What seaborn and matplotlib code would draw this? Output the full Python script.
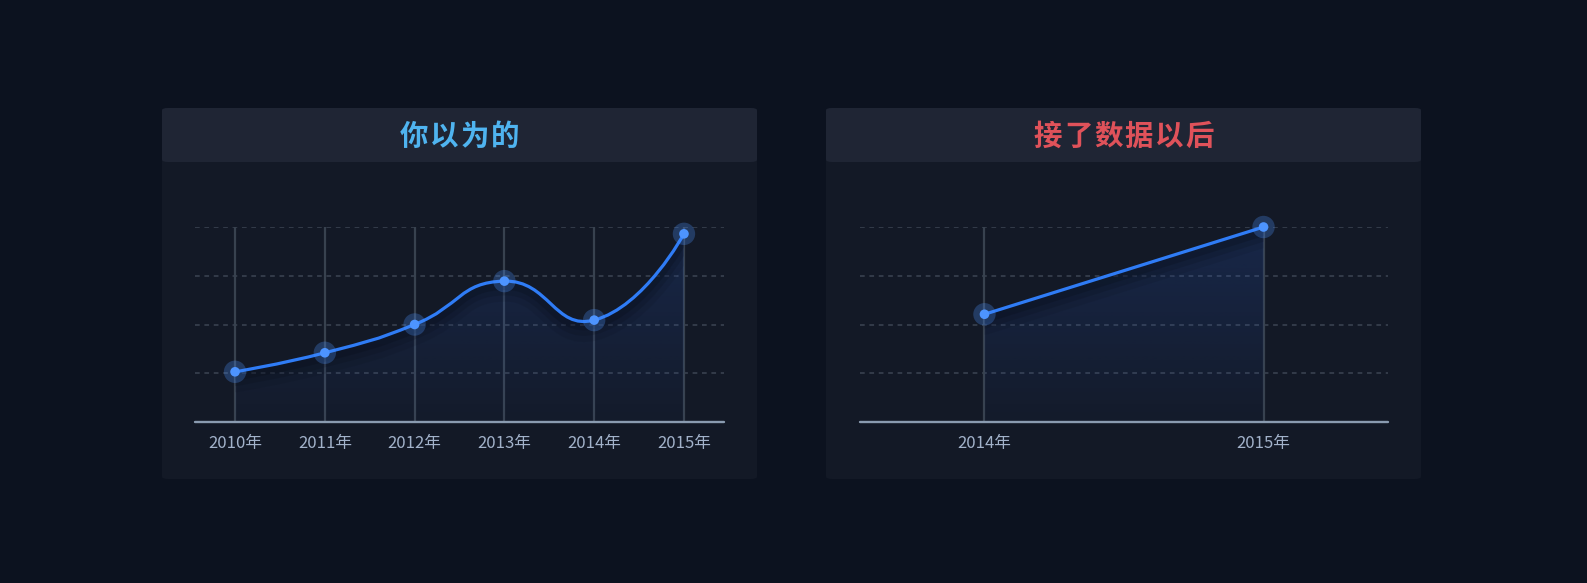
import numpy as np
import pandas as pd
import matplotlib
matplotlib.use("Agg")
import matplotlib.pyplot as plt
import seaborn as sns
from matplotlib.path import Path
from matplotlib.patches import PathPatch, FancyBboxPatch
from matplotlib import transforms

# ---- data ----
left_title = "你以为的"
right_title = "接了数据以后"
left_years = ["2010年", "2011年", "2012年", "2013年", "2014年", "2015年"]
left_values = [103, 142, 200, 289, 209, 386]
right_years = ["2014年", "2015年"]
right_values = [221, 400]
grid_values = [100, 200, 300, 400]

# ---- style ----
sns.set_theme(style="dark")
plt.rcParams["font.family"] = ["Noto Sans CJK SC", "DejaVu Sans"]

BG = "#0c121f"
PANEL = "#131926"
HEADER = "#1f2534"
LINE = "#2f7cf6"
DOT = "#4d94ff"
VGRID = "#38424f"
HGRID = "#363e4c"
BASE = "#8a9bb0"
TICK = "#a2b2ca"

W, H = 1587, 583
fig = plt.figure(figsize=(W / 100, H / 100), dpi=100, facecolor=BG)


def fx(px):
    return px / W


def fy(py):
    return 1 - py / H


def panel(x0, x1, y0, yh, y1, title, tcolor):
    body = FancyBboxPatch((fx(x0), fy(y1)), fx(x1 - x0), (y1 - y0) / H,
                          boxstyle="round,pad=0,rounding_size=0.004",
                          transform=fig.transFigure, facecolor=PANEL,
                          edgecolor="none", zorder=-2)
    fig.patches.append(body)
    head = FancyBboxPatch((fx(x0), fy(yh)), fx(x1 - x0), (yh - y0) / H,
                          boxstyle="round,pad=0,rounding_size=0.004",
                          transform=fig.transFigure, facecolor=HEADER,
                          edgecolor="none", zorder=-1)
    fig.patches.append(head)
    pitch = 30.3
    n = len(title)
    cx = (x0 + x1) / 2
    for i, ch in enumerate(title):
        px = cx + (i - (n - 1) / 2) * pitch
        fig.text(fx(px), fy((y0 + yh) / 2 + 2), ch, color=tcolor,
                 fontsize=20.5, fontweight="bold", ha="center", va="center",
                 family=["Noto Sans CJK SC", "DejaVu Sans"])


panel(162, 757, 108, 162, 479, left_title, "#4fb4f0")
panel(826, 1421, 108, 162, 479, right_title, "#e0525a")


def make_ax(x0, x1, n):
    ax = fig.add_axes([fx(x0), fy(422), fx(x1 - x0), 195 / H])
    ax.set_facecolor("none")
    pad = 0.446
    ax.set_xlim(-pad, n - 1 + pad)
    ax.set_ylim(0, 400)
    for s in ax.spines.values():
        s.set_visible(False)
    ax.grid(False)
    ax.set_yticks([])
    for g in grid_values:
        ax.axhline(g, color=HGRID, lw=1.3, ls=(0, (2.6, 2.6)), zorder=1)
    for i in range(n):
        ax.axvline(i, ymin=0, ymax=1, color=VGRID, lw=1.6, zorder=1.5)
    ax.axhline(0, color=BASE, lw=1.7, zorder=6, clip_on=False)
    return ax


def smooth_path(xs, ys, sx, sy, smooth=0.5):
    # echarts-like bezier smoothing computed in pixel space
    P = np.column_stack([np.asarray(xs, float) * sx, np.asarray(ys, float) * sy])
    n = len(P)
    verts = [tuple(P[0])]
    codes = [Path.MOVETO]
    cin = [None] * n
    cout = [None] * n
    for i in range(n):
        if i == 0 or i == n - 1:
            cin[i] = P[i]
            cout[i] = P[i]
            continue
        v = P[i + 1] - P[i - 1]
        d0 = np.hypot(*(P[i] - P[i - 1]))
        d1 = np.hypot(*(P[i + 1] - P[i]))
        r1 = d1 / (d0 + d1)
        cin[i] = P[i] - v * smooth * (1 - r1)
        cout[i] = P[i] + v * smooth * r1
    for i in range(1, n):
        verts += [tuple(cout[i - 1]), tuple(cin[i]), tuple(P[i])]
        codes += [Path.CURVE4] * 3
    verts = [(a / sx, b / sy) for a, b in verts]
    return verts, codes


def decorate(ax, verts, codes, xs, ys):
    xlim = ax.get_xlim()
    fverts = verts + [(xs[-1], 0), (xs[0], 0), (xs[0], ys[0])]
    fcodes = codes + [Path.LINETO, Path.LINETO, Path.CLOSEPOLY]
    fill_path = Path(fverts, fcodes)
    clip = PathPatch(fill_path, transform=ax.transData, facecolor="none",
                     edgecolor="none")
    ax.add_patch(clip)
    grad = np.linspace(0.22, 0.03, 256).reshape(-1, 1)
    rgba = np.zeros((256, 1, 4))
    rgba[..., 0] = 0x2a / 255
    rgba[..., 1] = 0x5c / 255
    rgba[..., 2] = 0xc8 / 255
    rgba[..., 3] = grad
    im = ax.imshow(rgba, extent=[xlim[0], xlim[1], 0, 400],
                   origin="upper", aspect="auto", zorder=2, interpolation="bilinear")
    im.set_clip_path(clip)
    ax.set_xlim(xlim)
    ax.set_ylim(0, 400)
    lpath = Path(verts, codes)
    for lw, a, off in [(18, 0.10, -8), (12, 0.16, -6), (7, 0.22, -4)]:
        tr = transforms.offset_copy(ax.transData, fig=fig, x=0, y=off, units="dots")
        sh = PathPatch(lpath, transform=tr, facecolor="none", edgecolor="#070b14",
                       lw=lw, alpha=a, zorder=2.5, capstyle="round")
        sh.set_clip_path(clip)
        ax.add_patch(sh)


tick_kw = dict(colors=TICK, labelsize=12, length=0, pad=9.5)

# ---- left chart ----
axL = make_ax(195, 724, len(left_years))
xl = np.arange(len(left_years))
sx, sy = 89.7, 48.75 / 100
verts, codes = smooth_path(xl, left_values, sx, sy)
decorate(axL, verts, codes, list(xl), left_values)
axL.add_patch(PathPatch(Path(verts, codes), facecolor="none", edgecolor=LINE,
                        lw=2.3, zorder=4, capstyle="round"))
dfL = pd.DataFrame({"x": xl, "y": left_values})
sns.scatterplot(data=dfL, x="x", y="y", ax=axL, s=260, color=DOT, alpha=0.28,
                edgecolor="none", zorder=5, clip_on=False)
sns.scatterplot(data=dfL, x="x", y="y", ax=axL, s=48, color=DOT,
                edgecolor="none", zorder=6, clip_on=False)
axL.set_xticks(xl)
axL.set_xticklabels(left_years)
axL.tick_params(axis="x", **tick_kw)
axL.set_xlabel("")
axL.set_ylabel("")
axL.set_xlim(-0.446, 5.446)
axL.set_ylim(0, 400)

# ---- right chart ----
axR = make_ax(860, 1388, len(right_years))
xr = np.arange(len(right_years))
rverts = [(float(a), float(b)) for a, b in zip(xr, right_values)]
rcodes = [Path.MOVETO] + [Path.LINETO] * (len(rverts) - 1)
decorate(axR, rverts, rcodes, list(xr), right_values)
dfR = pd.DataFrame({"x": xr, "y": right_values})
sns.lineplot(data=dfR, x="x", y="y", ax=axR, color=LINE, lw=2.3, zorder=4)
sns.scatterplot(data=dfR, x="x", y="y", ax=axR, s=260, color=DOT, alpha=0.28,
                edgecolor="none", zorder=5, clip_on=False)
sns.scatterplot(data=dfR, x="x", y="y", ax=axR, s=48, color=DOT,
                edgecolor="none", zorder=6, clip_on=False)
axR.set_xticks(xr)
axR.set_xticklabels(right_years)
axR.tick_params(axis="x", **tick_kw)
axR.set_xlabel("")
axR.set_ylabel("")
axR.set_xlim(-0.446, 1.446)
axR.set_ylim(0, 400)

fig.savefig("out.png", dpi=100, facecolor=BG)
